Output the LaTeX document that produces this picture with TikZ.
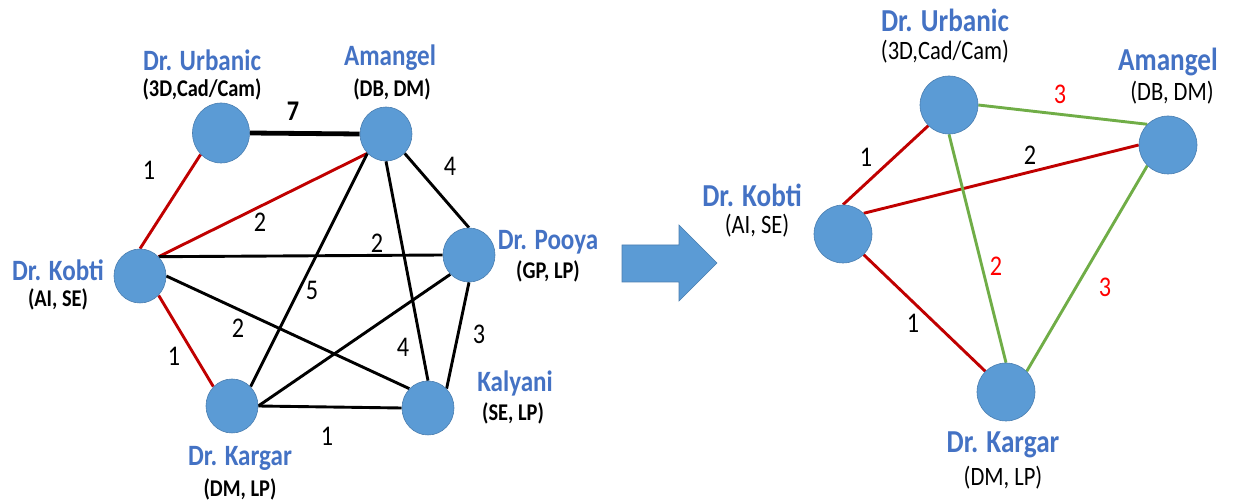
\documentclass[tikz,border=0pt]{standalone}
\usepackage{fontspec}
\setmainfont{Carlito}[FakeStretch=0.85]
\usetikzlibrary{shapes.geometric}
\pgfdeclarelayer{edges}
\pgfsetlayers{edges,main}
\definecolor{nodeblue}{HTML}{5B9BD5}
\definecolor{nodeedge}{HTML}{4A7EB0}
\definecolor{namecol}{HTML}{4472C4}
\definecolor{redline}{HTML}{C00000}
\definecolor{greenline}{HTML}{70AD47}
\definecolor{redtext}{HTML}{FF0000}
\begin{document}
\begin{tikzpicture}[x=1pt,y=-1pt,
  vertex/.style={ellipse, fill=nodeblue, draw=nodeedge, line width=0.6pt,
    inner sep=0pt, minimum width=52pt, minimum height=54pt},
  bigvertex/.style={vertex, minimum width=58pt, minimum height=58pt},
  nameL/.style={text=namecol, font=\fontsize{29.5}{32}\selectfont\bfseries, inner sep=0pt},
  subL/.style={font=\fontsize{24}{28}\selectfont\bfseries, inner sep=0pt},
  nameR/.style={text=namecol, font=\fontsize{32}{36}\selectfont\bfseries, inner sep=0pt},
  subR/.style={font=\fontsize{26.5}{30}\selectfont, inner sep=0pt},
  weight/.style={font=\fontsize{28.5}{32}\selectfont, inner sep=0pt},
  rweight/.style={weight, text=redtext},
  blackedge/.style={draw=black, line width=2.9pt},
  heavyedge/.style={draw=black, line width=4.8pt},
  redge/.style={draw=redline, line width=2.9pt},
  gedge/.style={draw=greenline, line width=2.9pt}]
\useasboundingbox (0,0) rectangle (1251,502);

% ---------- complete graph of six researchers ----------
\node[vertex, minimum width=57pt, minimum height=60pt] (u) at (221,133) {};
\node[vertex] (a) at (386,134) {};
\node[vertex] (p) at (469,255) {};
\node[vertex] (k) at (140,276) {};
\node[vertex] (y) at (428,408) {};
\node[vertex] (g) at (232,406) {};

\node[nameL] (un) at (202,60) {Dr. Urbanic};
\node[subL]  (us) at (202,89) {(3D,Cad/Cam)};
\node[nameL] (an) at (390,58) {Amangel};
\node[subL]  (as) at (392,89) {(DB, DM)};
\node[nameL] (pn) at (548,242) {Dr. Pooya};
\node[subL]  (ps) at (548,271) {(GP, LP)};
\node[nameL] (kn) at (58,270) {Dr. Kobti};
\node[subL]  (ks) at (58,299) {(AI, SE)};
\node[nameL] (yn) at (515,383) {Kalyani};
\node[subL]  (ys) at (513,413) {(SE, LP)};
\node[nameL] (gn) at (240,458) {Dr. Kargar};
\node[subL]  (gs) at (240,489) {(DM, LP)};

\begin{pgfonlayer}{edges}
\path[heavyedge] (u.east) -- (a.west);
\path[redge] (u.south west) -- (k.north);
\path[redge] (k.north east) -- (a.south west);
\path[blackedge] (a.south east) -- (p.north);
\path[blackedge] (k.north east) -- (p.west);
\path[blackedge] (a.south west) -- (g.north east);
\path[blackedge] (a.south) -- (y.north);
\path[blackedge] (k.east) -- (y.north west);
\path[blackedge] (p.south) -- (y.north east);
\path[blackedge] (g.east) -- (y.west);
\path[blackedge] (g.east) -- (p.south west);
\path[redge] (k.south east) -- (g.north west);
\end{pgfonlayer}

\node[weight] (w1) at (293,111) {\bfseries 7};
\node[weight] (w2) at (149,170) {1};
\node[weight] (w3) at (260,222) {2};
\node[weight] (w4) at (450,166) {4};
\node[weight] (w5) at (377,243) {2};
\node[weight] (w6) at (312,290) {5};
\node[weight] (w7) at (238,328) {2};
\node[weight] (w8) at (403,347) {4};
\node[weight] (w9) at (479,334) {3};
\node[weight] (w10) at (174,356) {1};
\node[weight] (w11) at (327,436) {1};

% ---------- block arrow ----------
\draw[fill=nodeblue, draw=nodeedge, line width=0.6pt]
  (622,245) -- (679,245) -- (679,225) -- (717,263) -- (679,301) -- (679,282) -- (622,282) -- cycle;

% ---------- reduced graph of four researchers ----------
\node[bigvertex] (U) at (949,105) {};
\node[bigvertex] (A) at (1168,145) {};
\node[bigvertex] (K) at (843,234) {};
\node[bigvertex] (G) at (1006,392) {};

\node[nameR] (Un) at (945,20) {Dr. Urbanic};
\node[subR]  (Us) at (945,52) {(3D,Cad/Cam)};
\node[nameR] (An) at (1168,62) {Amangel};
\node[subR]  (As) at (1172,93) {(DB, DM)};
\node[nameR] (Kn) at (752,195) {Dr. Kobti};
\node[subR]  (Ks) at (757,226) {(AI, SE)};
\node[nameR] (Gn) at (1003,445) {Dr. Kargar};
\node[subR]  (Gs) at (1003,478) {(DM, LP)};

\begin{pgfonlayer}{edges}
\path[gedge] (U.east) -- (A.north west);
\path[redge] (K.north) -- (U.south west);
\path[redge] (K.north east) -- (A.west);
\path[gedge] (U.south) -- (G.north);
\path[gedge] (A.south west) -- (G.north east);
\path[redge] (K.south east) -- (G.north west);
\end{pgfonlayer}

\node[rweight] (R1) at (1060,94) {3};
\node[weight]  (R2) at (866,157) {1};
\node[weight]  (R3) at (1030,155) {2};
\node[rweight] (R4) at (996,266) {2};
\node[rweight] (R5) at (1105,287) {3};
\node[weight]  (R6) at (913,323) {1};
\end{tikzpicture}
\end{document}
